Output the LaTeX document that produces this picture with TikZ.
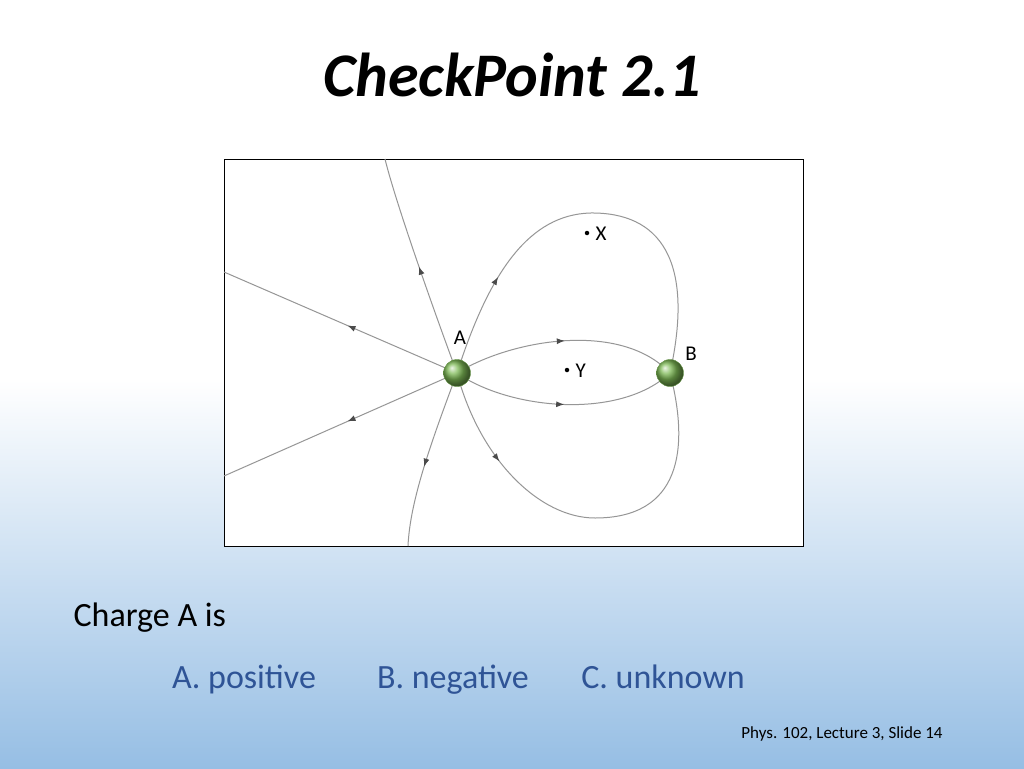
\documentclass[tikz,border=0pt]{standalone}
\usepackage{fontspec}
\setmainfont{Carlito}
\usetikzlibrary{arrows.meta,decorations.markings}

\definecolor{fieldgray}{RGB}{150,150,150}
\definecolor{answerblue}{RGB}{47,84,150}
\definecolor{skyblue}{RGB}{150,190,228}
\definecolor{ballgreen}{RGB}{125,185,85}

\tikzset{
    fieldline/.style = {draw = fieldgray, line width = 1pt},
    arrowat/.style = {postaction = decorate, decoration = {markings, mark = at position #1 with {\arrow[fieldgray!50!black]{Latex[length=8pt,width=6pt]}}}},
    charge/.style = {circle, minimum size = 27pt, inner sep = 0pt, ball color = ballgreen, draw = ballgreen!80!black},
    probe/.style = {circle, fill = black, inner sep = 0pt, minimum size = 4.5pt},
    smalllabel/.style = {font = \fontsize{21}{23}\selectfont},
    bigtext/.style = {font = \fontsize{34}{38}\selectfont, anchor = base}
}

\begin{document}
\begin{tikzpicture}[x = 1pt, y = -1pt]
        % slide background
        \useasboundingbox (0,0) rectangle (1024,768) ;
        \fill [white] (0,0) rectangle (1024,380) ;
        \shade [top color = white, bottom color = skyblue] (0,380) rectangle (1024,768) ;

        \node [font = \fontsize{62}{66}\selectfont\bfseries\itshape] (title) at (512,75) {CheckPoint 2.1} ;

        % figure frame
        \draw [fill = white, line width = 0.6pt] (224,159) rectangle (803,546) ;

        \coordinate (qA) at (457,373) ;
        \coordinate (qB) at (670,373) ;
        \coordinate (eleft1) at (224,272) ;
        \coordinate (eleft2) at (224,476) ;
        \coordinate (etop) at (385,159) ;
        \coordinate (ebot) at (408,546) ;

        % field lines
        \draw [fieldline, arrowat = 0.47] (qA) -- (eleft1) ;
        \draw [fieldline, arrowat = 0.47] (qA) -- (eleft2) ;
        \draw [fieldline, arrowat = 0.5] (qA) .. controls (430,300) and (395,200) .. (etop) ;
        \draw [fieldline, arrowat = 0.55] (qA) .. controls (432,440) and (410,500) .. (ebot) ;
        \draw [fieldline, arrowat = 0.24] (qA) .. controls (490,270) and (530,215) .. (590,213) .. controls (660,212) and (695,260) .. (qB) ;
        \draw [fieldline, arrowat = 0.5] (qA) .. controls (510,340) and (620,320) .. (qB) ;
        \draw [fieldline, arrowat = 0.5] (qA) .. controls (510,410) and (620,420) .. (qB) ;
        \draw [fieldline, arrowat = 0.24] (qA) .. controls (480,460) and (540,518) .. (595,518) .. controls (680,518) and (690,450) .. (qB) ;

        % charges and points
        \node [charge] (A) at (qA) {} ;
        \node [charge] (B) at (qB) {} ;
        \node [smalllabel] (labA) at (460,338) {A} ;
        \node [smalllabel] (labB) at (691,354) {B} ;
        \node [probe] (X) at (587,233) {} ;
        \node [smalllabel, anchor = west] (labX) at (592,234) {X} ;
        \node [probe] (Y) at (567,370) {} ;
        \node [smalllabel, anchor = west] (labY) at (572,371) {Y} ;

        % question
        \node [bigtext, anchor = base west] (question) at (70,626) {Charge A is} ;
        \node [bigtext, text = answerblue] (ansA) at (244,688) {A. positive} ;
        \node [bigtext, text = answerblue] (ansB) at (453,688) {B. negative} ;
        \node [bigtext, text = answerblue] (ansC) at (663,688) {C. unknown} ;
        \node [font = \fontsize{17}{19}\selectfont, anchor = base] (footer) at (842,738) {Phys. 102, Lecture 3, Slide 14} ;
\end{tikzpicture}
\end{document}
